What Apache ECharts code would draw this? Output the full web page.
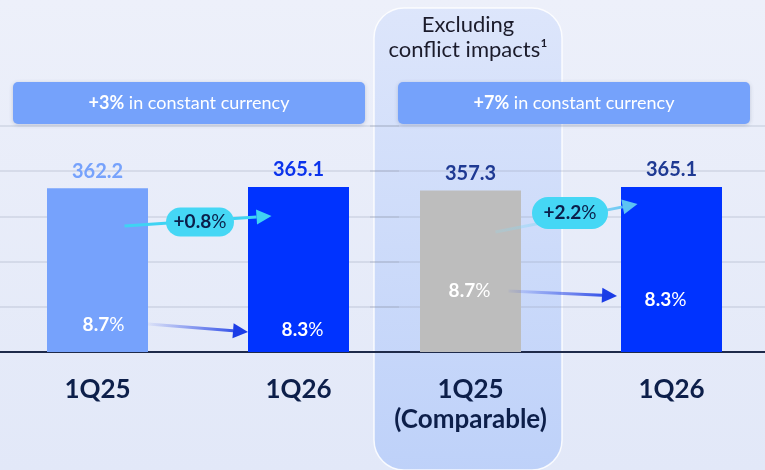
<!DOCTYPE html>
<html>
<head>
<meta charset="utf-8">
<script src="https://cdn.jsdelivr.net/npm/echarts@6/dist/echarts.min.js"></script>
<style>
  html, body { margin: 0; padding: 0; }
  #chart { width: 765px; height: 470px; }
</style>
</head>
<body>
<div id="chart"></div>
<script>
// 数据
const categoriesLeft = ["1Q25", "1Q26"];
const categoriesRight = ["1Q25\n(Comparable)", "1Q26"];
const revenueLeft = [362.2, 365.1];
const revenueRight = [357.3, 365.1];
const marginLeft = [8.7, 8.3];
const marginRight = [8.7, 8.3];
const growthLabels = ["+0.8", "+2.2"];
const bannerBold = ["+3%", "+7%"];
const bannerText = " in constant currency";
const yTicks = [0, 100, 200, 300, 400, 500];

// 样式
const barColorsLeft = ["#76A2FC", "#0033FF"];
const barColorsRight = ["#BDBDBD", "#0033FF"];
const valueColorsLeft = ["#76A2FC", "#0B33EC"];
const valueColorsRight = ["#1F3A93", "#1F3A93"];
const innerDistLeft = [18, 13];
const innerDistRight = [52, 43];
const innerOffsetLeft = [6, 4];
const innerOffsetRight = [-1, -6];
const FONT = "Lato";

var myChart = echarts.init(document.getElementById("chart"));

function catAxis(idx, data) {
  return {
    type: "category",
    gridIndex: idx,
    data: data,
    axisTick: { show: false },
    axisLine: { show: true, lineStyle: { color: "#1E2A4A", width: 2 } },
    axisLabel: {
      interval: 0,
      margin: 23,
      formatter: function (value) {
        return value.split("\n").map(function (s) { return "{a|" + s + "}"; }).join("\n");
      },
      rich: {
        a: { fontFamily: FONT, fontSize: 26, fontWeight: "bold", color: "#0D1F4A", lineHeight: 30 },
      },
    },
  };
}

function valAxis(idx) {
  return {
    type: "value",
    gridIndex: idx,
    min: yTicks[0],
    max: yTicks[yTicks.length - 1],
    interval: yTicks[1] - yTicks[0],
    axisLabel: { show: false },
    axisLine: { show: false },
    axisTick: { show: false },
    splitLine: { show: true, lineStyle: { color: "rgba(150,155,180,0.3)", width: 1.5 } },
  };
}

function mainSeries(idx, values, colors, labelColors) {
  return {
    type: "bar",
    xAxisIndex: idx,
    yAxisIndex: idx,
    barWidth: 101,
    barGap: "-100%",
    z: 3,
    data: values.map(function (v, i) {
      return {
        value: v,
        itemStyle: { color: colors[i] },
        label: { color: labelColors[i] },
      };
    }),
    label: {
      show: true,
      position: "top",
      distance: 7,
      fontFamily: FONT,
      fontSize: 20,
      fontWeight: "bold",
    },
  };
}

function innerSeries(idx, values, margins, dist, offs) {
  return {
    type: "bar",
    xAxisIndex: idx,
    yAxisIndex: idx,
    barWidth: 101,
    barGap: "-100%",
    silent: true,
    z: 4,
    itemStyle: { color: "rgba(0,0,0,0)" },
    data: values.map(function (v, i) {
      return {
        value: v,
        label: { distance: dist[i], offset: [offs[i], 0], formatter: "{b|" + margins[i] + "}{p|%}" },
      };
    }),
    label: {
      show: true,
      position: "insideBottom",
      rich: {
        b: { fontFamily: FONT, fontSize: 19, fontWeight: "bold", color: "#fff" },
        p: { fontFamily: FONT, fontSize: 19, color: "#fff" },
      },
    },
  };
}

let option = {
  backgroundColor: new echarts.graphic.LinearGradient(0, 0, 0, 1, [
    { offset: 0, color: "#EDF0FA" },
    { offset: 1, color: "#E2E8F8" },
  ]),
  animation: false,
  grid: [
    { left: -3, width: 402, top: 126, height: 226, outerBoundsMode: "none" },
    { left: 370, width: 402, top: 126, height: 226, outerBoundsMode: "none" },
  ],
  xAxis: [catAxis(0, categoriesLeft), catAxis(1, categoriesRight)],
  yAxis: [valAxis(0), valAxis(1)],
  series: [
    mainSeries(0, revenueLeft, barColorsLeft, valueColorsLeft),
    innerSeries(0, revenueLeft, marginLeft, innerDistLeft, innerOffsetLeft),
    mainSeries(1, revenueRight, barColorsRight, valueColorsRight),
    innerSeries(1, revenueRight, marginRight, innerDistRight, innerOffsetRight),
  ],
};

myChart.setOption(option);

// 装饰：高亮列、横幅、箭头、增速胶囊
function px(idx, cat, v) {
  return myChart.convertToPixel({ xAxisIndex: idx, yAxisIndex: idx }, [cat, v]);
}
const half = 50.5;
const L0 = px(0, 0, 0), L1 = px(0, 1, 0), R0 = px(1, 0, 0), R1 = px(1, 1, 0);

function arrow(x1, y1, x2, y2, c0, c1, w, head) {
  const ang = Math.atan2(y2 - y1, x2 - x1);
  const bx = x2 - Math.cos(ang) * head, by = y2 - Math.sin(ang) * head;
  const nx = -Math.sin(ang) * head * 0.5, ny = Math.cos(ang) * head * 0.5;
  return [
    {
      type: "line",
      z: 20,
      shape: { x1: x1, y1: y1, x2: bx, y2: by },
      style: {
        stroke: new echarts.graphic.LinearGradient(x1, 0, x2, 0, [
          { offset: 0, color: c0 },
          { offset: 1, color: c1 },
        ], true),
        lineWidth: w,
      },
    },
    {
      type: "polygon",
      z: 20,
      shape: { points: [[x2, y2], [bx + nx, by + ny], [bx - nx, by - ny]] },
      style: { fill: c1 },
    },
  ];
}

function pill(cx, cy, w, h, txt) {
  return {
    type: "group",
    z: 30,
    children: [
      { type: "rect", z: 30, shape: { x: cx - w / 2, y: cy - h / 2, width: w, height: h, r: h / 2 }, style: { fill: "#45D7F5" } },
      {
        type: "text",
        z: 31,
        x: cx,
        y: cy,
        style: {
          text: "{b|" + txt + "}{p|%}",
          align: "center",
          verticalAlign: "middle",
          rich: {
            b: { fontFamily: FONT, fontSize: 19, fontWeight: "bold", fill: "#0B1F4A" },
            p: { fontFamily: FONT, fontSize: 19, fill: "#0B1F4A" },
          },
        },
      },
    ],
  };
}

function banner(x, y, w, h, bold) {
  return {
    type: "group",
    z: 30,
    children: [
      { type: "rect", z: 30, shape: { x: x, y: y, width: w, height: h, r: 5 }, style: { fill: "#75A2FB", shadowBlur: 4, shadowColor: "rgba(60,70,110,0.25)", shadowOffsetY: 1 } },
      {
        type: "text",
        z: 31,
        x: x + w / 2,
        y: y + h / 2,
        style: {
          text: "{b|" + bold + "}{n|" + bannerText + "}",
          align: "center",
          verticalAlign: "middle",
          rich: {
            b: { fontFamily: FONT, fontSize: 18, fontWeight: "bold", fill: "#fff" },
            n: { fontFamily: FONT, fontSize: 18, fill: "#fff" },
          },
        },
      },
    ],
  };
}

let graphics = [
  {
    type: "rect",
    z: -10,
    shape: { x: 374, y: 8, width: 188, height: 462, r: 30 },
    style: {
      fill: new echarts.graphic.LinearGradient(0, 0, 0, 1, [
        { offset: 0, color: "rgba(220,229,251,0.95)" },
        { offset: 1, color: "rgba(188,208,249,0.95)" },
      ]),
      stroke: "rgba(255,255,255,0.85)",
      lineWidth: 1.5,
    },
  },
  {
    type: "text",
    z: 30,
    x: 468,
    y: 37,
    style: {
      text: "Excluding\nconflict impacts\u00B9",
      align: "center",
      verticalAlign: "middle",
      fontFamily: FONT,
      fontSize: 22,
      lineHeight: 25,
      fill: "#1B1B2B",
    },
  },
  banner(13, 82, 352, 42, bannerBold[0]),
  banner(398, 82, 352, 42, bannerBold[1]),
];

graphics = graphics.concat(
  arrow(L0[0] + 27, 226, L1[0] - 27, 216, "#3FD3F3", "#3FD3F3", 3, 15),
  arrow(R0[0] + 25, 232, R1[0] - 34, 204, "rgba(140,220,245,0.2)", "#5CC3F3", 3, 15),
  arrow(L0[0] + half, 324, L1[0] - half, 332, "rgba(40,70,230,0.05)", "#1B3CE6", 3, 15),
  arrow(R0[0] + 38, 291, R1[0] - half - 4, 296, "rgba(40,70,230,0.05)", "#1B3CE6", 3, 15),
  [pill((L0[0] + L1[0]) / 2 + 2, 222, 68, 29, growthLabels[0]), pill(570, 213, 76, 32, growthLabels[1])]
);

myChart.setOption({ graphic: graphics });

window.addEventListener("resize", () => {
  if (myChart) myChart.resize();
});
</script>
</body>
</html>
